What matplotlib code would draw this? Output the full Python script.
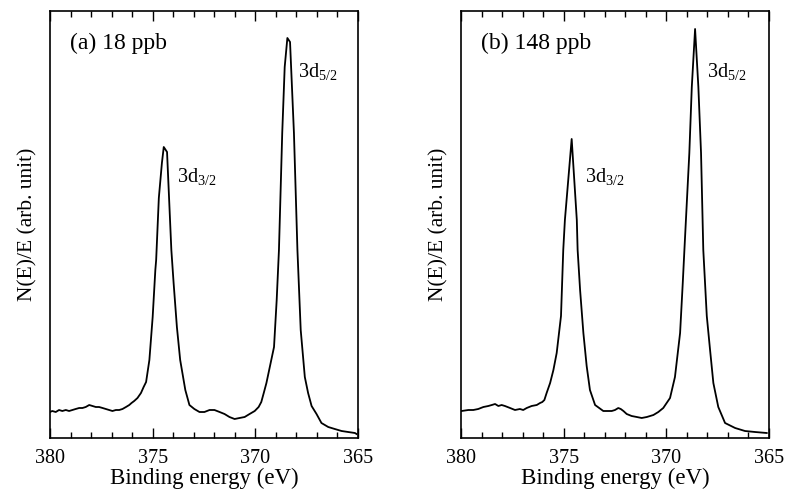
import matplotlib
matplotlib.use("Agg")
import matplotlib.pyplot as plt
from matplotlib.ticker import MultipleLocator

########  data  ########

# (a) 18 ppb
energy_a = [380.0, 379.89, 379.72, 379.56, 379.4, 379.23, 379.07, 378.91, 378.75, 378.58,
            378.42, 378.26, 378.09, 377.93, 377.77, 377.61, 377.44, 377.28, 377.12, 376.96,
            376.79, 376.63, 376.47, 376.3, 376.14, 376.03, 375.9, 375.74, 375.57, 375.44,
            375.32, 375.16, 375.0, 374.87, 374.83, 374.7, 374.55, 374.46, 374.3, 374.09,
            373.98, 373.82, 373.66, 373.41, 373.21, 372.97, 372.72, 372.48, 372.23, 371.99,
            371.74, 371.5, 371.26, 371.01, 370.77, 370.52, 370.28, 370.03, 369.84, 369.71,
            369.59, 369.46, 369.09, 368.96, 368.85, 368.69, 368.57, 368.44, 368.31, 368.12,
            367.95, 367.79, 367.59, 367.43, 367.26, 367.02, 366.78, 366.45, 366.13, 365.8,
            365.48, 365.15, 365.07]
counts_a = [26, 27, 26, 28, 27, 28, 27, 28, 29, 30,
            30, 31, 33, 32, 31, 31, 30, 29, 28, 27,
            28, 28, 29, 31, 33, 35, 37, 40, 45, 51,
            56, 78, 121, 168, 178, 240, 275, 291, 286, 188,
            155, 111, 78, 48, 33, 29, 26, 26, 28, 28,
            26, 24, 21, 19, 20, 21, 24, 27, 31, 36,
            45, 55, 91, 138, 188, 305, 371, 400, 396, 305,
            188, 108, 61, 45, 32, 24, 15, 11, 9, 7,
            6, 5, 4]

# (b) 148 ppb
energy_b = [379.97, 379.64, 379.4, 379.16, 378.91, 378.67, 378.5, 378.34, 378.18, 378.02,
            377.86, 377.61, 377.37, 377.13, 376.97, 376.8, 376.56, 376.31, 376.15, 376.04,
            375.94, 375.83, 375.66, 375.5, 375.34, 375.13, 375.02, 374.94, 374.61, 374.36,
            374.32, 374.2, 374.04, 373.88, 373.72, 373.47, 373.07, 372.82, 372.66, 372.5,
            372.34, 372.22, 372.09, 371.93, 371.69, 371.44, 371.2, 370.95, 370.63, 370.39,
            370.15, 369.82, 369.58, 369.33, 369.2, 369.12, 368.88, 368.76, 368.6, 368.44,
            368.31, 368.2, 368.03, 367.87, 367.71, 367.47, 367.14, 366.65, 366.17, 365.68,
            365.11]
counts_b = [27, 28, 28, 29, 31, 32, 33, 34, 32, 33,
            32, 30, 28, 29, 28, 30, 32, 33, 35, 36,
            38, 45, 55, 68, 85, 122, 188, 218, 299, 218,
            188, 148, 105, 72, 48, 33, 27, 27, 27, 28,
            30, 29, 27, 24, 22, 21, 20, 21, 23, 26,
            30, 40, 61, 105, 155, 188, 285, 351, 409, 351,
            285, 188, 122, 88, 55, 31, 15, 10, 7, 6,
            5]

panel_labels = ["(a) 18 ppb", "(b) 148 ppb"]
peak_labels = ["3d$_{3/2}$", "3d$_{5/2}$"]
peak_pos_a = [(373.8, 261), (367.93, 366)]
peak_pos_b = [(373.96, 261), (368.02, 366)]

########  plot  ########

plt.rcParams["font.family"] = "Liberation Serif"
plt.rcParams["mathtext.fontset"] = "custom"
plt.rcParams["mathtext.rm"] = "Liberation Serif"
plt.rcParams["font.size"] = 14.5

fig = plt.figure(figsize=(7.88, 4.93), dpi=100)
ax_a = fig.add_axes([50 / 788, 55 / 493, 308 / 788, 427 / 493])
ax_b = fig.add_axes([461 / 788, 55 / 493, 308 / 788, 427 / 493])

for ax, e, c, lab, pos in [(ax_a, energy_a, counts_a, panel_labels[0], peak_pos_a),
                           (ax_b, energy_b, counts_b, panel_labels[1], peak_pos_b)]:
    ax.plot(e, c, color="black", lw=1.3)
    ax.set_xlim(380, 365)
    ax.set_ylim(0, 427)
    ax.xaxis.set_major_locator(MultipleLocator(5))
    ax.xaxis.set_minor_locator(MultipleLocator(1))
    ax.tick_params(axis="x", which="both", direction="in", top=True, pad=8)
    ax.tick_params(axis="x", which="major", length=7, width=1)
    ax.tick_params(axis="x", which="minor", length=4, width=1)
    ax.set_yticks([])
    for s in ax.spines.values():
        s.set_linewidth(1.2)
    ax.set_xlabel("Binding energy (eV)", fontsize=16.5, labelpad=0)
    ax.set_ylabel("N(E)/E (arb. unit)", fontsize=15.5, labelpad=9)
    ax.text(0.065, 0.925, lab, transform=ax.transAxes, va="center", ha="left", fontsize=17)
    for txt, (x, y) in zip(peak_labels, pos):
        ax.text(x, y, txt, ha="left", va="center")

plt.savefig("out.png", dpi=100)
plt.close()
